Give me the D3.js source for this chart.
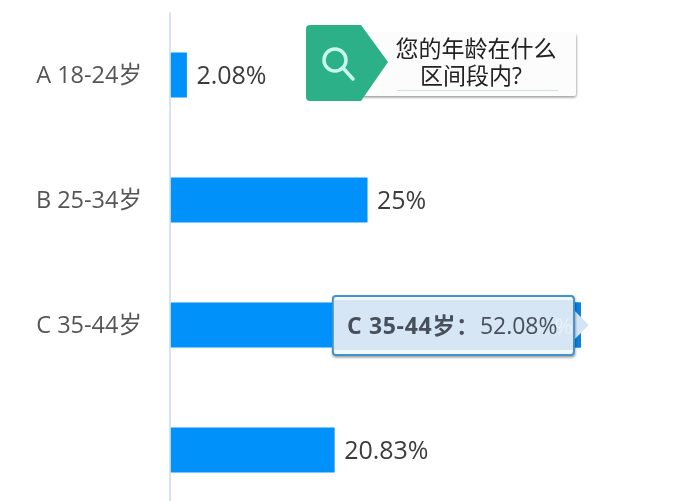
<!DOCTYPE html>
<html>
<head>
<meta charset="utf-8">
<script src="https://cdn.jsdelivr.net/npm/d3@7"></script>
<style>
  html, body { margin: 0; padding: 0; background: #fff; overflow: hidden; }
  svg { display: block; font-family: "Open Sans", "Noto Sans CJK SC", sans-serif; filter: blur(0.45px); }
</style>
</head>
<body>
<div id="app"></div>
<script>
const categories = ['A', 'B', 'C', 'D'];
// the D label is blanked out in the picture
const tickLabels = ['A 18-24岁', 'B 25-34岁', 'C 35-44岁', ''];
const values = [2.08, 25, 52.08, 20.83];
const titleLines = ['您的年龄在什么', '区间段内?'];

const width = 700;
const height = 501;

const svg = d3.select('#app').append('svg')
  .attr('width', width)
  .attr('height', height)
  .attr('viewBox', [0, 0, width, height]);

const defs = svg.append('defs');
const shadow = defs.append('filter').attr('id', 'shadow')
  .attr('x', '-5%').attr('y', '-10%').attr('width', '110%').attr('height', '125%');
shadow.append('feDropShadow')
  .attr('dx', 0.5).attr('dy', 1.5).attr('stdDeviation', 1.2)
  .attr('flood-color', '#000').attr('flood-opacity', 0.4);

const x = d3.scaleLinear()
  .domain([0, 25])
  .range([170.5, 367.5]);

const y = d3.scaleBand()
  .domain(categories)
  .range([12.5, 512.5])
  .paddingInner(0.64)
  .paddingOuter(0.32);

// bars
svg.append('g')
  .selectAll('rect')
  .data(values)
  .enter()
  .append('rect')
  .attr('x', x(0))
  .attr('y', (d, i) => y(categories[i]))
  .attr('width', d => x(d) - x(0))
  .attr('height', y.bandwidth())
  .attr('fill', '#0091fb');

// axis
const axis = svg.append('g')
  .attr('transform', `translate(${x(0) - 0.5}, 0)`)
  .call(d3.axisLeft(y).offset(0).tickSize(0).tickPadding(28).tickFormat((d, i) => tickLabels[i]));

axis.select('.domain').attr('stroke', '#ccd6eb').attr('stroke-width', 1.5);
axis.selectAll('text')
  .attr('font-size', 23.5)
  .attr('font-family', '"Open Sans", "Noto Sans CJK SC", sans-serif')
  .attr('fill', '#555');

// value labels, C sits under the tooltip
svg.append('g')
  .selectAll('text')
  .data(values)
  .enter()
  .append('text')
  .filter((d, i) => i !== 2)
  .attr('x', d => x(d) + 9.5)
  .attr('y', d => y(categories[values.indexOf(d)]) + y.bandwidth() / 2)
  .attr('dy', '0.36em')
  .attr('font-size', 25)
  .attr('fill', '#3c3c3c')
  .text(d => `${d}%`);

// tooltip on C
const tipRight = x(values[2]) - 7;
const tipMid = y('C') + y.bandwidth() / 2;
const tip = svg.append('g');

svg.insert('rect', 'g + g')
  .attr('x', tipRight - 10)
  .attr('y', y('C'))
  .attr('width', x(values[2]) - tipRight + 10)
  .attr('height', y.bandwidth())
  .attr('fill', '#0a7fdc');

tip.append('path')
  .attr('d', `M${tipRight},${tipMid - 15}L${tipRight + 15},${tipMid}L${tipRight},${tipMid + 15}Z`)
  .attr('fill', '#d3e4f3');

tip.append('rect')
  .attr('x', tipRight - 241)
  .attr('y', tipMid - 29)
  .attr('width', 241)
  .attr('height', 59)
  .attr('rx', 3)
  .attr('fill', '#f2f7fc')
  .attr('stroke', '#3f93cf')
  .attr('stroke-width', 2)
  .attr('filter', 'url(#shadow)');

tip.append('rect')
  .attr('x', tipRight - 240)
  .attr('y', tipMid - 25)
  .attr('width', 239)
  .attr('height', 50)
  .attr('fill', '#d6e6f5');

// the value label's % showing through
tip.append('text')
  .attr('x', tipRight - 1)
  .attr('y', tipMid + 1)
  .attr('dy', '0.36em')
  .attr('text-anchor', 'end')
  .attr('font-size', 22)
  .attr('fill', '#fff')
  .attr('opacity', 0.45)
  .text('%');

const tipText = tip.append('text')
  .attr('x', tipRight - 227)
  .attr('y', tipMid + 1)
  .attr('dy', '0.36em')
  .attr('font-size', 23)
  .attr('fill', '#47505a');

tipText.append('tspan')
  .attr('font-weight', 700)
  .attr('letter-spacing', 0.7)
  .text(`${tickLabels[2]}：`);

tipText.append('tspan')
  .attr('x', tipRight - 94)
  .text(`${values[2]}%`);

// title badge
const badge = svg.append('g');

badge.append('rect')
  .attr('x', 340)
  .attr('y', 33)
  .attr('width', 236)
  .attr('height', 63)
  .attr('rx', 3)
  .attr('fill', '#fcfcfc')
  .attr('filter', 'url(#shadow)');

badge.append('path')
  .attr('d', 'M310,25L361,25L388,62L361,101L310,101Q306,101 306,97L306,29Q306,25 310,25Z')
  .attr('fill', '#2bb088');

badge.append('circle')
  .attr('cx', 335)
  .attr('cy', 60)
  .attr('r', 11)
  .attr('fill', 'none')
  .attr('stroke', '#c8f8e8')
  .attr('stroke-width', 3.5);

badge.append('line')
  .attr('x1', 343)
  .attr('y1', 68)
  .attr('x2', 353)
  .attr('y2', 79)
  .attr('stroke', '#c8f8e8')
  .attr('stroke-width', 3.5)
  .attr('stroke-linecap', 'round');

badge.selectAll('text')
  .data(titleLines)
  .enter()
  .append('text')
  .attr('x', (d, i) => 476 - i * 5)
  .attr('y', (d, i) => 49 + i * 27)
  .attr('dy', '0.36em')
  .attr('text-anchor', 'middle')
  .attr('font-size', 23)
  .attr('fill', '#222')
  .text(d => d);

badge.append('line')
  .attr('x1', 397)
  .attr('y1', 90.5)
  .attr('x2', 558)
  .attr('y2', 90.5)
  .attr('stroke', '#cfe0d8');
</script>
</body>
</html>
